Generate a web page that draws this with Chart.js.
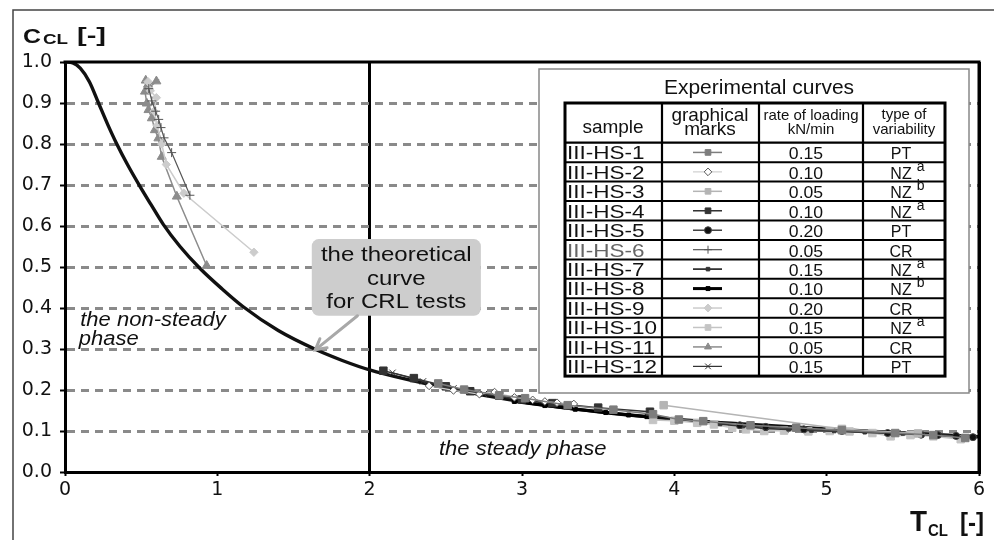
<!DOCTYPE html>
<html>
<head>
<meta charset="utf-8">
<script src="https://cdn.jsdelivr.net/npm/chart.js@4"></script>
<style>
html,body{margin:0;padding:0;background:#fff;}
canvas{display:block;}
</style>
</head>
<body>
<canvas id="c" width="994" height="540"></canvas>
<script>
// ---------- DATA ----------
// theoretical curve for CRL tests
const theoryT = [0, 0.05, 0.10, 0.16, 0.22, 0.28, 0.34, 0.41, 0.49, 0.565, 0.645, 0.755, 0.885, 1.03, 1.17, 1.40, 1.65, 1.82, 2.0, 2.5, 3.0, 3.5, 4.0, 4.5, 5.0, 5.5, 6.0];
const theoryC = [1.0, 0.998, 0.985, 0.952, 0.90, 0.848, 0.80, 0.75, 0.698, 0.652, 0.604, 0.55, 0.497, 0.447, 0.403, 0.345, 0.298, 0.272, 0.249, 0.205, 0.171, 0.147, 0.129, 0.116, 0.105, 0.095, 0.086];

// legend table columns
const samples = ['III-HS-1','III-HS-2','III-HS-3','III-HS-4','III-HS-5','III-HS-6','III-HS-7','III-HS-8','III-HS-9','III-HS-10','III-HS-11','III-HS-12'];
const loadingRates = ['0.15','0.10','0.05','0.10','0.20','0.05','0.15','0.10','0.20','0.15','0.05','0.15'];
const variabilityType = ['PT','NZ','NZ','NZ','PT','CR','NZ','NZ','CR','NZ','CR','PT'];
const variabilitySup = ['','a','b','a','','','a','b','','a','',''];

// experimental curves: T_CL and C_CL
const hs1T = [2.45, 2.62, 2.85, 3.02, 3.30, 3.60, 3.86, 4.03, 4.19, 4.50, 4.80, 5.10, 5.45, 5.70, 5.91];
const hs1C = [0.216, 0.201, 0.187, 0.180, 0.163, 0.152, 0.141, 0.128, 0.124, 0.114, 0.108, 0.102, 0.095, 0.090, 0.083];
const hs2T = [2.39, 2.55, 2.72, 2.82, 2.95, 3.07, 3.15, 3.23, 3.34];
const hs2C = [0.210, 0.199, 0.190, 0.195, 0.182, 0.176, 0.172, 0.169, 0.166];
const hs3T = [3.93, 5.10, 5.60];
const hs3C = [0.163, 0.105, 0.094];
const hs4T = [2.09, 2.29, 2.50, 2.66, 2.85, 3.00, 3.20, 3.50, 3.84];
const hs4C = [0.247, 0.229, 0.209, 0.197, 0.186, 0.177, 0.168, 0.157, 0.147];
const hs5T = [4.43, 4.60, 4.85, 5.10, 5.40, 5.62, 5.73, 5.85, 5.96];
const hs5C = [0.114, 0.110, 0.104, 0.100, 0.095, 0.091, 0.090, 0.088, 0.085];
const hs6T = [0.55, 0.57, 0.595, 0.615, 0.63, 0.65, 0.70, 0.82];
const hs6C = [0.935, 0.905, 0.880, 0.860, 0.840, 0.815, 0.779, 0.675];
const hs7T = [4.30, 4.45, 4.60, 4.75, 4.90, 5.05, 5.25, 5.50];
const hs7C = [0.117, 0.112, 0.106, 0.104, 0.101, 0.100, 0.097, 0.094];
const hs8T = [2.95, 3.15, 3.35, 3.55, 3.70, 3.82];
const hs8C = [0.172, 0.162, 0.153, 0.145, 0.139, 0.135];
const hs9T = [0.545, 0.56, 0.60, 0.585, 0.605, 0.635, 0.665, 0.78, 1.24];
const hs9C = [0.952, 0.930, 0.913, 0.880, 0.845, 0.800, 0.750, 0.680, 0.536];
const hs10T = [3.86, 4.00, 4.15, 4.26, 4.38, 4.47, 4.59, 4.72, 4.88, 5.02, 5.15, 5.30, 5.42, 5.55, 5.70, 5.88];
const hs10C = [0.127, 0.125, 0.120, 0.116, 0.108, 0.104, 0.100, 0.101, 0.099, 0.100, 0.099, 0.095, 0.087, 0.090, 0.087, 0.080];
const hs11T = [0.53, 0.545, 0.60, 0.525, 0.537, 0.548, 0.57, 0.59, 0.613, 0.635, 0.734, 0.93];
const hs11C = [0.955, 0.945, 0.953, 0.928, 0.899, 0.883, 0.863, 0.834, 0.814, 0.769, 0.672, 0.503];
const hs12T = [2.15, 2.35, 2.55, 2.75, 2.95, 3.12, 3.30];
const hs12C = [0.242, 0.221, 0.204, 0.190, 0.178, 0.169, 0.160];

const seriesT = [hs1T, hs2T, hs3T, hs4T, hs5T, hs6T, hs7T, hs8T, hs9T, hs10T, hs11T, hs12T];
const seriesC = [hs1C, hs2C, hs3C, hs4C, hs5C, hs6C, hs7C, hs8C, hs9C, hs10C, hs11C, hs12C];

// ---------- STYLES ----------
const seriesStyle = [
  {color:'#7d7d7d', point:'rect', r:5.3, fill:'#7d7d7d', lw:1.5},
  {color:'#cfcfcf', point:'rectRot', r:3.8, fill:'#ffffff', stroke:'#555555', lw:1.2},
  {color:'#b4b4b4', point:'rect', r:5.3, fill:'#b4b4b4', lw:1.5},
  {color:'#333333', point:'rect', r:5.3, fill:'#333333', lw:1.5},
  {color:'#444444', point:'circle', r:3.5, fill:'#111111', lw:1.5},
  {color:'#555555', point:'cross', r:4.5, lw:1.2},
  {color:'#333333', point:'rect', r:2.5, fill:'#333333', lw:1.8},
  {color:'#000000', point:'rect', r:2.8, fill:'#000000', lw:3},
  {color:'#cccccc', point:'rectRot', r:4.2, fill:'#cccccc', lw:1.5},
  {color:'#c4c4c4', point:'rect', r:5.3, fill:'#c4c4c4', lw:1.5},
  {color:'#8c8c8c', point:'triangle', r:5.2, fill:'#8c8c8c', lw:1.5},
  {color:'#333333', point:'crossRot', r:4.5, lw:1.2}
];

const datasets = [{
  label: 'theoretical curve',
  data: theoryT.map((t, i) => ({x: t, y: theoryC[i]})),
  showLine: true, borderColor: '#111111', borderWidth: 3.4,
  pointRadius: 0, cubicInterpolationMode: 'monotone', order: 50
}];
samples.forEach((name, k) => {
  const st = seriesStyle[k];
  datasets.push({
    label: name,
    data: seriesT[k].map((t, i) => ({x: t, y: seriesC[k][i]})),
    showLine: true, borderColor: st.color, borderWidth: st.lw,
    pointStyle: st.point, pointRadius: st.r,
    pointBackgroundColor: st.fill || st.color,
    pointBorderColor: st.stroke || st.color,
    pointBorderWidth: 1, order: k
  });
});

// ---------- TEXT HELPERS ----------
function drawText(ctx, s, x, y, font, opt) {
  opt = opt || {};
  ctx.save();
  ctx.font = font;
  ctx.fillStyle = opt.color || '#111';
  ctx.textBaseline = 'alphabetic';
  ctx.textAlign = 'left';
  const w0 = ctx.measureText(s).width;
  const sx = opt.width ? opt.width / w0 : (opt.sx || 1);
  const w = w0 * sx;
  let x0 = x;
  if (opt.align === 'center') x0 = x - w / 2;
  else if (opt.align === 'right') x0 = x - w;
  ctx.translate(x0, y);
  ctx.scale(sx, 1);
  ctx.fillText(s, 0, 0);
  ctx.restore();
  return w;
}
function roundRect(ctx, x, y, w, h, r) {
  ctx.beginPath();
  ctx.moveTo(x + r, y);
  ctx.arcTo(x + w, y, x + w, y + h, r);
  ctx.arcTo(x + w, y + h, x, y + h, r);
  ctx.arcTo(x, y + h, x, y, r);
  ctx.arcTo(x, y, x + w, y, r);
  ctx.closePath();
}

const decor = {
  id: 'decor',
  afterDatasetsDraw(chart) {
    const {ctx, chartArea: a, scales: {x, y}} = chart;
    // top & right frame of plot
    ctx.save();
    ctx.strokeStyle = '#000'; ctx.lineWidth = 3;
    ctx.beginPath();
    ctx.moveTo(a.left - 1.5, a.top); ctx.lineTo(a.right, a.top); ctx.lineTo(a.right, a.bottom + 1.5);
    ctx.stroke();
    ctx.restore();

    // phase labels
    const F = "'Liberation Sans', Arial, sans-serif";
    drawText(ctx, 'the non-steady', x.getPixelForValue(0.10), y.getPixelForValue(0.357), 'italic 20px ' + F, {sx: 1.1});
    drawText(ctx, 'phase', x.getPixelForValue(0.09), y.getPixelForValue(0.310), 'italic 20px ' + F, {sx: 1.1});
    drawText(ctx, 'the steady phase', x.getPixelForValue(2.455), y.getPixelForValue(0.041), 'italic 20px ' + F, {sx: 1.1});

    // annotation box
    const bx1 = x.getPixelForValue(1.62), bx2 = x.getPixelForValue(2.73);
    const by1 = y.getPixelForValue(0.568), by2 = y.getPixelForValue(0.381);
    ctx.save();
    roundRect(ctx, bx1, by1, bx2 - bx1, by2 - by1, 7);
    ctx.fillStyle = '#cdcdcd';
    ctx.fill();
    ctx.restore();
    const cx = (bx1 + bx2) / 2;
    drawText(ctx, 'the theoretical', cx, by1 + 22, '20px ' + F, {align: 'center', sx: 1.2, color: '#111'});
    drawText(ctx, 'curve', cx, by1 + 45.5, '20px ' + F, {align: 'center', sx: 1.2, color: '#111'});
    drawText(ctx, 'for CRL tests', cx, by1 + 69, '20px ' + F, {align: 'center', sx: 1.2, color: '#111'});
    // arrow
    const ax1 = x.getPixelForValue(1.92), ay1 = by2;
    const ax2 = x.getPixelForValue(1.643), ay2 = y.getPixelForValue(0.298);
    ctx.save();
    ctx.strokeStyle = '#a8a8a8'; ctx.lineWidth = 3; ctx.lineCap = 'round';
    ctx.beginPath(); ctx.moveTo(ax1, ay1); ctx.lineTo(ax2, ay2); ctx.stroke();
    const ang = Math.atan2(ay2 - ay1, ax2 - ax1);
    ctx.beginPath();
    ctx.moveTo(ax2 - 12 * Math.cos(ang - 0.5), ay2 - 12 * Math.sin(ang - 0.5));
    ctx.lineTo(ax2, ay2);
    ctx.lineTo(ax2 - 12 * Math.cos(ang + 0.5), ay2 - 12 * Math.sin(ang + 0.5));
    ctx.stroke();
    ctx.restore();

    // ---------- legend table ----------
    ctx.save();
    ctx.fillStyle = '#fff';
    ctx.fillRect(539, 69, 430, 324);
    ctx.strokeStyle = '#888'; ctx.lineWidth = 1.5;
    ctx.strokeRect(539, 69, 430, 324);
    ctx.restore();
    drawText(ctx, 'Experimental curves', 759, 94, '20px ' + F, {align: 'center', sx: 1.05});

    const L = 565, R = 945, TOP = 103, HEAD = 142.7, RH = 19.45;
    const cols = [565, 662, 759, 863, 945];
    const BOT = HEAD + RH * samples.length;
    ctx.save();
    ctx.strokeStyle = '#000';
    ctx.lineWidth = 2;
    for (let i = 1; i < samples.length; i++) {
      const yy = HEAD + RH * i;
      ctx.beginPath(); ctx.moveTo(L, yy); ctx.lineTo(R, yy); ctx.stroke();
    }
    ctx.lineWidth = 2.2;
    ctx.beginPath(); ctx.moveTo(L, HEAD); ctx.lineTo(R, HEAD); ctx.stroke();
    for (let c = 1; c < cols.length - 1; c++) {
      ctx.beginPath(); ctx.moveTo(cols[c], TOP); ctx.lineTo(cols[c], BOT); ctx.stroke();
    }
    ctx.lineWidth = 3;
    ctx.strokeRect(L, TOP, R - L, BOT - TOP);
    ctx.restore();

    // header
    drawText(ctx, 'sample', 613, 133, '19px ' + F, {align: 'center'});
    drawText(ctx, 'graphical', 710, 121, '19px ' + F, {align: 'center'});
    drawText(ctx, 'marks', 710, 135, '19px ' + F, {align: 'center'});
    drawText(ctx, 'rate of loading', 811, 120, '15px ' + F, {align: 'center'});
    drawText(ctx, 'kN/min', 811, 134, '15px ' + F, {align: 'center'});
    drawText(ctx, 'type of', 904, 119, '15px ' + F, {align: 'center'});
    drawText(ctx, 'variability', 904, 134, '15px ' + F, {align: 'center'});

    // rows
    samples.forEach((name, i) => {
      const top = HEAD + RH * i;
      const base = top + 16.6;
      drawText(ctx, name, 567, base, '18px ' + F, {sx: 1.25, color: i === 5 ? '#666' : '#111'});
      drawText(ctx, loadingRates[i], 806, base, '16px ' + F, {align: 'center', sx: 1.1});
      const w = drawText(ctx, variabilityType[i], 901, base, '16px ' + F, {align: 'center'});
      if (variabilitySup[i]) drawText(ctx, variabilitySup[i], 901 + w / 2 + 5, top + 8.5, '14px ' + F);
      // graphical mark
      const st = seriesStyle[i];
      const cy = top + RH / 2;
      ctx.save();
      ctx.strokeStyle = st.color; ctx.lineWidth = Math.max(st.lw, 1.2);
      ctx.beginPath(); ctx.moveTo(693, cy); ctx.lineTo(722, cy); ctx.stroke();
      ctx.fillStyle = st.fill || st.color;
      ctx.strokeStyle = st.stroke || st.color;
      ctx.lineWidth = 1;
      Chart.helpers.drawPoint(ctx, {pointStyle: st.point, radius: Math.min(st.r, 4), rotation: 0, borderWidth: 1}, 708, cy);
      ctx.restore();
    });
  },
  afterDraw(chart) {
    const ctx = chart.ctx;
    const F = "'Liberation Sans', Arial, sans-serif";
    // outer frame (top and left)
    ctx.save();
    ctx.strokeStyle = '#444'; ctx.lineWidth = 1.5;
    ctx.beginPath(); ctx.moveTo(13, 540); ctx.lineTo(13, 10); ctx.lineTo(994, 10); ctx.stroke();
    ctx.restore();
    // axis titles
    drawText(ctx, 'C', 23, 42.5, 'bold 20px ' + F, {width: 18});
    drawText(ctx, 'CL', 43, 44.3, 'bold 14px ' + F, {width: 25});
    drawText(ctx, '[-]', 77, 41.5, 'bold 20px ' + F, {width: 29});
    drawText(ctx, 'T', 910, 531, 'bold 29px ' + F, {width: 17});
    drawText(ctx, 'CL', 928, 535.5, 'bold 17px ' + F, {width: 20});
    drawText(ctx, '[-]', 960, 531, 'bold 25px ' + F, {width: 24});
  }
};

new Chart(document.getElementById('c'), {
  type: 'scatter',
  data: {datasets},
  plugins: [decor],
  options: {
    responsive: false,
    animation: false,
    devicePixelRatio: 1,
    layout: {padding: {left: 0, right: 15, top: 62, bottom: 0}},
    plugins: {legend: {display: false}, tooltip: {enabled: false}},
    scales: {
      x: {
        type: 'linear', min: 0, max: 6,
        ticks: {stepSize: 1, color: '#111', font: {family: "'DejaVu Sans'", size: 19}, padding: 3, maxRotation: 0},
        grid: {
          color: c => (c.tick && (c.tick.value === 2 || c.tick.value === 6)) ? '#000' : 'rgba(0,0,0,0)',
          lineWidth: 3, drawTicks: true, tickLength: 4, tickColor: '#000', tickWidth: 2
        },
        border: {display: true, color: '#000', width: 3},
        afterFit: s => { s.height = 68; }
      },
      y: {
        min: 0, max: 1,
        ticks: {stepSize: 0.1, color: '#111', font: {family: "'DejaVu Sans'", size: 19}, padding: 8,
                callback: v => Number(v).toFixed(1)},
        grid: {
          color: c => (c.tick && c.tick.value > 0.001 && c.tick.value < 0.999) ? '#8a8a8a' : 'rgba(0,0,0,0)',
          lineWidth: 3, drawTicks: true, tickLength: 5, tickColor: '#000', tickWidth: 2, tickBorderDash: []
        },
        border: {display: true, color: '#000', width: 3, dash: [8, 6]},
        afterFit: s => { s.width = 65; }
      }
    }
  }
});
</script>
</body>
</html>
